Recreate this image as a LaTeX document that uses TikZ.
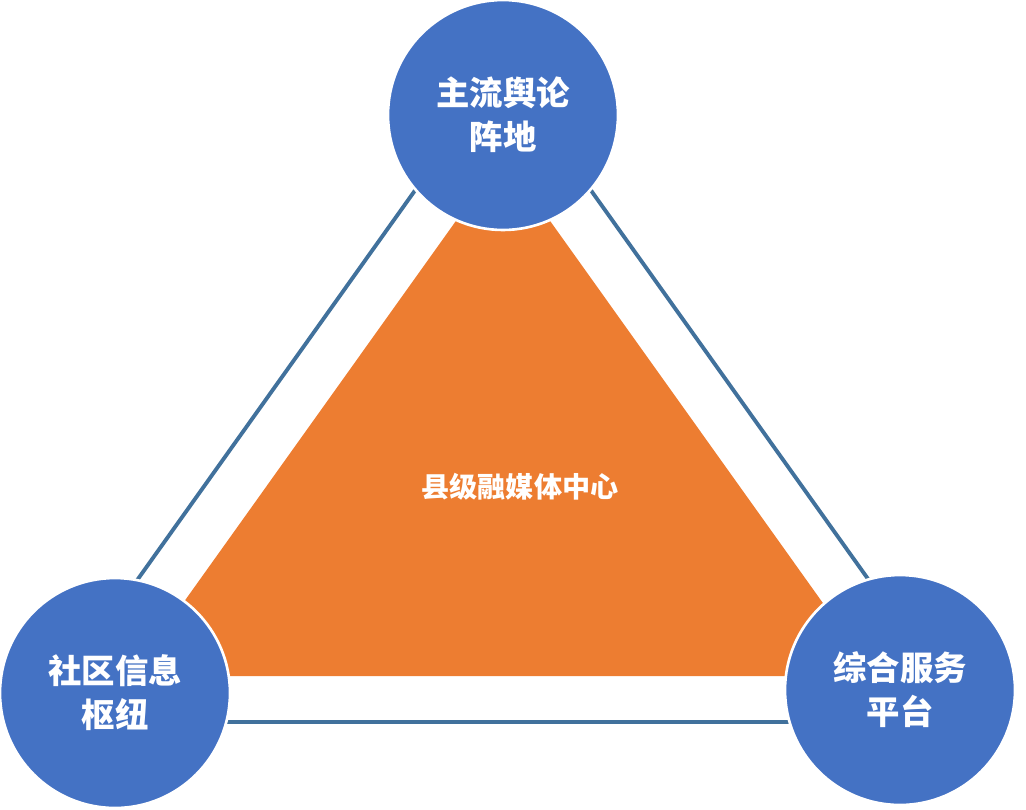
\documentclass[tikz,border=0pt]{standalone}
\usepackage{fontspec}
\newfontfamily\cjk{Noto Sans CJK SC}
\definecolor{hubblue}{RGB}{68,114,196}
\definecolor{edgeblue}{RGB}{65,113,156}
\definecolor{coreorange}{RGB}{237,125,49}
\begin{document}
\begin{tikzpicture}[x=0.02cm,y=-0.02cm,
    hub/.style={circle, fill=hubblue, draw=white, line width=1.5pt, minimum size=4.6cm, inner sep=0pt,
      align=center, text=white, font=\cjk\bfseries\fontsize{19}{25}\selectfont}
  ]
\useasboundingbox (0,0) rectangle (1026,809);

% Outer triangle
\coordinate (oa) at (503,67);
\coordinate (ob) at (36,722);
\coordinate (oc) at (970,722);
\draw[edgeblue, line width=2.2pt] (oa) -- (ob) -- (oc) -- cycle;

% Core triangle
\coordinate (ia) at (503,155);
\coordinate (ib) at (131,676);
\coordinate (ic) at (875,676);
\fill[coreorange] (ia) -- (ib) -- (ic) -- cycle;
\node[text=white, font=\cjk\bfseries\fontsize{16}{20}\selectfont] (core) at (520,487) {县级融媒体中心};

% Hubs
\node[hub] (top) at (503,115) {主流舆论\\阵地};
\node[hub] (left) at (115,693) {社区信息\\枢纽};
\node[hub] (right) at (900,690) {综合服务\\平台};

\end{tikzpicture}
\end{document}
